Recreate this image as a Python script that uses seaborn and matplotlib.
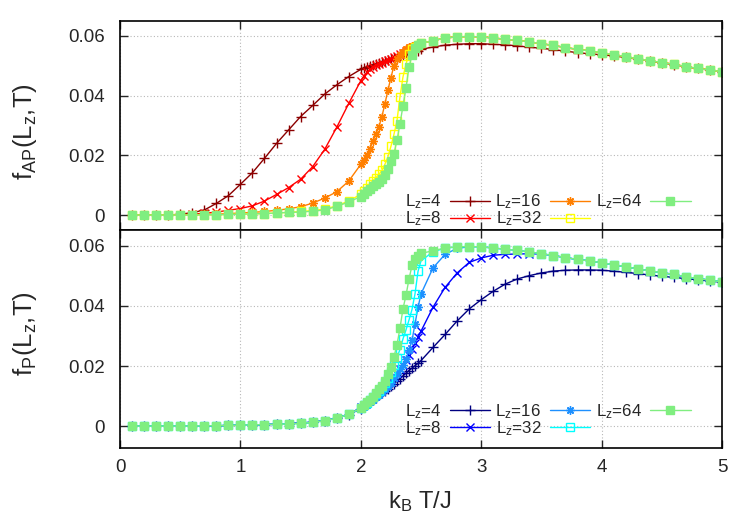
import matplotlib
matplotlib.use("Agg")
import matplotlib.pyplot as plt
import seaborn as sns

# temperature grid (k_B T / J): coarse, dense near the transition, coarse again
T_low = [0.1, 0.2, 0.3, 0.4, 0.5, 0.6, 0.7, 0.8, 0.9, 1.0,
         1.1, 1.2, 1.3, 1.4, 1.5, 1.6, 1.7, 1.8, 1.9]
T_mid = [2.0, 2.025, 2.05, 2.075, 2.1, 2.125, 2.15, 2.175, 2.2, 2.225,
         2.25, 2.275, 2.3, 2.325, 2.35, 2.375, 2.4, 2.425, 2.45, 2.475]
T_high = [2.5, 2.6, 2.7, 2.8, 2.9, 3.0, 3.1, 3.2, 3.3, 3.4, 3.5, 3.6, 3.7,
          3.8, 3.9, 4.0, 4.1, 4.2, 4.3, 4.4, 4.5, 4.6, 4.7, 4.8, 4.9, 5.0]
temps = T_low + T_mid + T_high

sizes = ["4", "8", "16", "32", "64"]

# high-T branch shared by the large systems (T = 2.5 ... 5.0)
tail_common = [0.0575, 0.0584, 0.0593, 0.0597, 0.0598, 0.0597, 0.0593, 0.0589, 0.0585,
               0.0580, 0.0574, 0.0568, 0.0561, 0.0555, 0.0550, 0.0544, 0.0537, 0.0531,
               0.0523, 0.0517, 0.0511, 0.0505, 0.0497, 0.0491, 0.0486, 0.0480]

# f_AP(L_z, T)
ap_4 = ([0, 0, 0, 0, 0.0003, 0.0008, 0.0017, 0.0039, 0.0065, 0.0103, 0.0142, 0.0190,
         0.0240, 0.0285, 0.0330, 0.0367, 0.0405, 0.0436, 0.0464]
        + [0.0488, 0.0492, 0.0496, 0.0500, 0.0504, 0.0507, 0.0511, 0.0514, 0.0517, 0.0521,
           0.0524, 0.0527, 0.0530, 0.0533, 0.0536, 0.0539, 0.0542, 0.0545, 0.0548, 0.0550]
        + [0.0555, 0.0563, 0.0569, 0.0572, 0.0574, 0.0574, 0.0572, 0.0570, 0.0567, 0.0562,
           0.0559, 0.0554, 0.0549, 0.0544, 0.0540, 0.0537, 0.0533, 0.0528, 0.0522, 0.0516,
           0.0510, 0.0504, 0.0497, 0.0491, 0.0485, 0.0480])
ap_8 = ([0, 0, 0, 0, 0.0001, 0.0003, 0.0006, 0.0010, 0.0016, 0.0022, 0.0031, 0.0047,
         0.0069, 0.0092, 0.0120, 0.0162, 0.0220, 0.0294, 0.0374]
        + [0.0450, 0.0466, 0.0478, 0.0488, 0.0496, 0.0502, 0.0507, 0.0511, 0.0515, 0.0520,
           0.0524, 0.0529, 0.0534, 0.0539, 0.0544, 0.0549, 0.0554, 0.0558, 0.0563, 0.0567]
        + tail_common)
ap_16 = ([0, 0, 0, 0, 0, 0.0001, 0.0002, 0.0003, 0.0005, 0.0007, 0.0009, 0.0012,
          0.0016, 0.0021, 0.0028, 0.0040, 0.0057, 0.0078, 0.0114]
         + [0.0170, 0.0185, 0.0202, 0.0222, 0.0247, 0.0272, 0.0296, 0.0330, 0.0372, 0.0418,
            0.0460, 0.0500, 0.0522, 0.0535, 0.0545, 0.0556, 0.0562, 0.0567, 0.0571, 0.0574]
         + tail_common)
ap_32 = ([0, 0, 0, 0, 0, 0, 0.0001, 0.0001, 0.0002, 0.0003, 0.0004, 0.0005,
          0.0007, 0.0009, 0.0012, 0.0015, 0.0020, 0.0031, 0.0047]
         + [0.0070, 0.0080, 0.0092, 0.0104, 0.0115, 0.0125, 0.0136, 0.0150, 0.0170, 0.0195,
            0.0230, 0.0270, 0.0315, 0.0395, 0.0462, 0.0505, 0.0540, 0.0555, 0.0564, 0.0570]
         + tail_common)
ap_64 = ([0, 0, 0, 0, 0, 0, 0.0001, 0.0001, 0.0002, 0.0003, 0.0004, 0.0005,
          0.0007, 0.0009, 0.0010, 0.0013, 0.0017, 0.0029, 0.0044]
         + [0.0062, 0.0072, 0.0080, 0.0088, 0.0096, 0.0104, 0.0112, 0.0122, 0.0135, 0.0155,
            0.0180, 0.0205, 0.0250, 0.0305, 0.0365, 0.0425, 0.0495, 0.0535, 0.0558, 0.0569]
         + tail_common)

# f_P(L_z, T)
p_4 = ([0, 0, 0, 0, 0, 0, 0.0001, 0.0001, 0.0002, 0.0003, 0.0004, 0.0005,
        0.0006, 0.0008, 0.0010, 0.0013, 0.0018, 0.0026, 0.0038]
       + [0.0058, 0.0065, 0.0072, 0.0079, 0.0087, 0.0094, 0.0102, 0.0109, 0.0117, 0.0125,
          0.0133, 0.0141, 0.0150, 0.0158, 0.0167, 0.0176, 0.0185, 0.0193, 0.0201, 0.0209]
       + [0.0218, 0.0262, 0.0305, 0.0350, 0.0390, 0.0421, 0.0449, 0.0473, 0.0490, 0.0501,
          0.0510, 0.0516, 0.0519, 0.0520, 0.0520, 0.0519, 0.0516, 0.0512, 0.0508, 0.0503,
          0.0499, 0.0495, 0.0491, 0.0487, 0.0483, 0.0479])
p_8 = ([0, 0, 0, 0, 0, 0, 0.0001, 0.0001, 0.0002, 0.0003, 0.0004, 0.0005,
        0.0006, 0.0008, 0.0010, 0.0013, 0.0018, 0.0027, 0.0040]
       + [0.0062, 0.0070, 0.0078, 0.0087, 0.0097, 0.0106, 0.0115, 0.0124, 0.0133, 0.0143,
          0.0153, 0.0164, 0.0176, 0.0190, 0.0205, 0.0220, 0.0237, 0.0256, 0.0276, 0.0296]
       + [0.0316, 0.0396, 0.0462, 0.0510, 0.0545, 0.0560, 0.0569, 0.0572, 0.0573, 0.0574,
          0.0573, 0.0568, 0.0561, 0.0555, 0.0550, 0.0544, 0.0537, 0.0531, 0.0523, 0.0517,
          0.0511, 0.0505, 0.0497, 0.0491, 0.0486, 0.0480])
p_16 = ([0, 0, 0, 0, 0, 0, 0.0001, 0.0001, 0.0002, 0.0003, 0.0004, 0.0005,
         0.0006, 0.0008, 0.0010, 0.0013, 0.0018, 0.0026, 0.0039]
        + [0.0058, 0.0064, 0.0071, 0.0079, 0.0087, 0.0096, 0.0105, 0.0114, 0.0123, 0.0133,
           0.0145, 0.0160, 0.0175, 0.0190, 0.0205, 0.0225, 0.0252, 0.0285, 0.0340, 0.0395]
        + [0.0440, 0.0527, 0.0572, 0.0592, 0.0597, 0.0597, 0.0593, 0.0589, 0.0585, 0.0580,
           0.0574, 0.0568, 0.0561, 0.0555, 0.0550, 0.0544, 0.0537, 0.0531, 0.0523, 0.0517,
           0.0511, 0.0505, 0.0497, 0.0491, 0.0486, 0.0480])
p_32 = ([0, 0, 0, 0, 0, 0, 0.0001, 0.0001, 0.0002, 0.0003, 0.0004, 0.0005,
         0.0006, 0.0007, 0.0009, 0.0012, 0.0018, 0.0026, 0.0039]
        + [0.0060, 0.0070, 0.0078, 0.0087, 0.0096, 0.0107, 0.0118, 0.0130, 0.0143, 0.0160,
           0.0180, 0.0203, 0.0228, 0.0255, 0.0290, 0.0320, 0.0353, 0.0388, 0.0440, 0.0515]
        + [0.0550, 0.0581, 0.0592, 0.0597, 0.0598, 0.0597, 0.0593, 0.0589, 0.0585, 0.0580,
           0.0574, 0.0568, 0.0561, 0.0555, 0.0550, 0.0544, 0.0537, 0.0531, 0.0523, 0.0517,
           0.0511, 0.0505, 0.0497, 0.0491, 0.0486, 0.0480])
p_64 = ([0, 0, 0, 0, 0, 0, 0.0001, 0.0001, 0.0002, 0.0003, 0.0004, 0.0005,
         0.0006, 0.0007, 0.0009, 0.0012, 0.0018, 0.0026, 0.0039]
        + [0.0060, 0.0071, 0.0079, 0.0088, 0.0098, 0.0110, 0.0122, 0.0135, 0.0150, 0.0172,
           0.0197, 0.0230, 0.0270, 0.0325, 0.0390, 0.0435, 0.0489, 0.0535, 0.0555, 0.0566]
        + tail_common)

ap_series = [ap_4, ap_8, ap_16, ap_32, ap_64]
p_series = [p_4, p_8, p_16, p_32, p_64]

ap_colors = ["#8b0000", "#ff0000", "#ff7f00", "#ffff00", "#80ee80"]
p_colors = ["#000080", "#0000ff", "#1e90ff", "#00ffff", "#80ee80"]
markers = ["+", "x", (8, 2, 0), "s", "s"]
msizes = [7, 6, 6, 5.5, 5.5]
hollow = [False, False, False, True, False]

yticks = [0, 0.02, 0.04, 0.06]
ytick_labels = ["0", "0.02", "0.04", "0.06"]
xticks = [0, 1, 2, 3, 4, 5]
xtick_labels = ["0", "1", "2", "3", "4", "5"]

sns.set_style("ticks")
plt.rcParams["font.family"] = ["Liberation Sans", "DejaVu Sans"]
plt.rcParams["mathtext.default"] = "regular"

fig = plt.figure(figsize=(7.5, 5.25), dpi=100)
ax1 = fig.add_axes([0.16, 0.5619, 0.8027, 0.3981])
ax2 = fig.add_axes([0.16, 0.1467, 0.8027, 0.4152])


def draw_panel(ax, series, colors):
    for lz, vals, col, mk, ms, ho in zip(sizes, series, colors, markers, msizes, hollow):
        sns.lineplot(x=temps, y=vals, ax=ax, color=col, marker=mk, markersize=ms,
                     markeredgecolor=col, markerfacecolor="none" if ho else col,
                     markeredgewidth=1.0, linewidth=1.0, label="L$_z$=" + lz)
    ax.set_xlim(0, 5)
    ax.set_xticks(xticks)
    ax.set_yticks(yticks)
    ax.set_yticklabels(ytick_labels)
    ax.grid(True, linestyle=(0, (1, 2)), color="#b8b8b8", linewidth=0.8)
    ax.tick_params(direction="in", top=True, right=True, length=6, width=1,
                   labelsize=13.5, pad=11)
    ax.tick_params(axis="x", pad=8)
    for sp in ax.spines.values():
        sp.set_linewidth(1.2)
        sp.set_color("black")
    ax.set_xlabel("")
    ax.set_ylabel("")


draw_panel(ax1, ap_series, ap_colors)
draw_panel(ax2, p_series, p_colors)

ax1.set_ylim(-0.005, 0.065)
ax2.set_ylim(-0.0073, 0.0653)
ax1.set_xticklabels([])
ax2.set_xticklabels(xtick_labels)

leg_kw = dict(ncol=3, frameon=False, markerfirst=False, fontsize=12.2, handlelength=2.4,
              handletextpad=0.5, columnspacing=0.3, labelspacing=-0.1, borderpad=0,
              loc="lower right")
ax1.legend(bbox_to_anchor=(0.962, -0.032), **leg_kw)
ax2.legend(bbox_to_anchor=(0.962, 0.008), **leg_kw)

fig.text(0.0333, 0.749, "f$_{AP}$(L$_z$,T)", rotation=90, ha="center", va="center", fontsize=18.5)
fig.text(0.0333, 0.364, "f$_P$(L$_z$,T)", rotation=90, ha="center", va="center", fontsize=18.5)
fig.text(0.559, 0.044, "k$_B$ T/J", ha="center", va="center", fontsize=17)

fig.savefig("out.png", dpi=100)
